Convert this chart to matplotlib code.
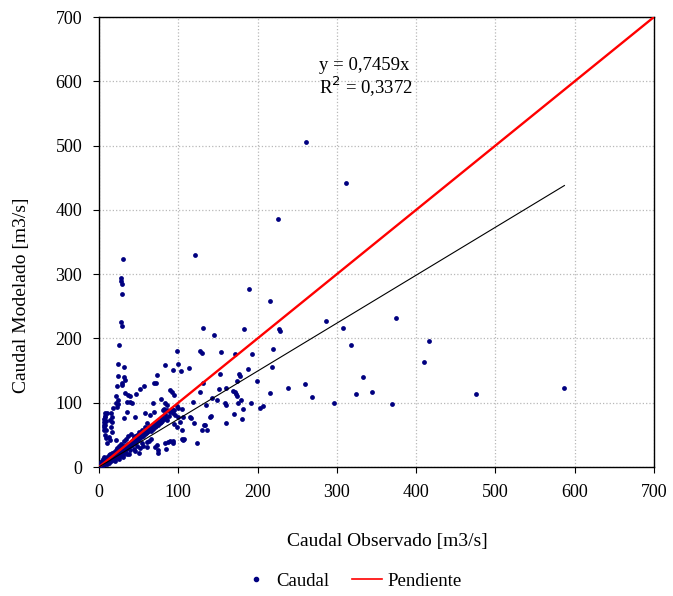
import numpy as np
import matplotlib.pyplot as plt
from matplotlib.lines import Line2D

plt.rcParams['font.family'] = ['Liberation Serif', 'DejaVu Serif']

obs_out = [260.7, 312, 225.8, 120.7, 29.9, 28, 28.3, 28.6, 28.6, 27.4, 29.4, 188.8, 215.7, 285.9,
           374, 307.7, 317.8, 227, 228, 182.5, 144.6, 131.6, 416, 410, 370, 475, 587, 219.4,
           127.8, 129.5, 154, 171.5, 192.5, 187.5, 217.8, 152.6, 177, 178, 174.4, 199.7, 130.8,
           151.3, 160.5, 169, 171, 173, 174, 179.5, 142.9, 148.4, 127.4, 238.3, 259.8, 268.6,
           215.7, 296.8, 332.5, 324.5, 344.7, 135.3, 159.5, 159.8, 175.7, 191.7, 181.6, 203,
           206.4, 169.9, 139.6, 180.7, 160.2, 132.4, 98.4, 25.6, 83.2, 24.2, 31.5, 99.2, 92.8,
           103.8, 113.5, 24.3, 31.9, 32.8, 73.6, 71.9, 69.4, 57.2, 51.4, 46.4, 29.4, 29.4, 22.7,
           33, 36, 38.7, 21.8, 90, 92.5, 95, 78.2, 68.5, 83.2, 85.8, 21.4, 35.3, 38.7, 41.6, 17.3,
           10, 7.6, 6.3, 6.3, 6.3, 6.3, 6.3, 14.3, 34.9, 31.1, 45.4, 58, 69.7, 81, 82, 95.8, 105,
           102, 95, 98, 106.4, 115.6, 119.8, 133.7, 140.8, 105, 107.7, 89.5, 93.3, 83.2, 84, 72.7,
           73.9, 74.8, 70.6, 60, 60, 50.9, 30.6, 38, 9.7, 13.9, 12, 21, 119, 64.3, 100, 114.8,
           129.5, 135.8, 104.3, 123.2, 106.3, 87.4, 93.7, 60, 77, 85.4, 93.7,
           8, 8, 8.5, 8, 8.3, 8, 8.4, 15.5, 16, 15.8, 15.5, 16, 23.5, 23.8, 23.3]
mod_out = [505, 442, 386, 329, 324, 294, 289, 285, 269, 225, 220, 277, 259, 227,
           232, 216, 190, 214, 211, 215, 205, 217, 196, 164, 98.5, 114, 123, 184,
           181, 178, 179, 176, 176, 153, 155, 144, 144, 141, 134, 134, 130,
           121, 123, 119, 116, 113, 110, 105, 107, 105, 117, 123, 129, 109,
           115, 99.5, 140, 113, 117, 96, 99, 96, 100, 99.5, 90, 92,
           95, 82, 78, 75, 68, 65, 180, 190, 159, 161, 156, 160, 151,
           150, 154.5, 141.5, 140.5, 135, 143, 130, 131, 125.5, 121, 113, 130, 127, 126,
           115, 112, 110, 111, 120, 116, 112, 106, 100, 100, 97, 100, 101, 101, 99, 92,
           83.5, 78, 75, 70, 66, 62, 58, 73, 86, 76, 78, 83.5, 86, 88, 91, 81, 91,
           70.5, 67, 62, 78, 76, 68, 65, 79, 43, 44, 40, 40.5, 38, 28.5, 34,
           26.4, 21.5, 31, 39.4, 31.6, 22.3, 18.7, 21, 36.8, 42, 47, 42, 101.6, 81, 78, 78,
           57.5, 57.5, 57.5, 36.8, 42, 39.4, 36.8, 68, 68, 73, 84,
           84, 80, 72, 65, 58, 50, 45, 84, 78, 70, 62, 55, 104, 98, 93]

# dense core near the origin
obs_core = [1, 2, 2, 3, 3, 4, 4, 5, 5, 5, 6, 6, 6, 7, 7, 8, 8, 9, 9, 10, 10, 10,
            11, 11, 12, 12, 13, 13, 13, 14, 14, 14, 15, 15, 15, 16, 16, 16, 17, 17, 18, 18, 18,
            19, 19, 19, 20, 20, 20,
            21, 21, 21, 22, 22, 23, 23, 23, 24, 24, 25, 25, 25, 26, 26, 27, 27, 28, 28, 28,
            29, 29, 30, 30, 30,
            31, 31, 31, 32, 32, 33, 33, 34, 34, 34, 35, 35, 36, 36, 37, 37, 37, 38, 38, 39, 39,
            40, 40, 40,
            41, 41, 42, 42, 43, 43, 44, 44, 45, 45, 46, 46, 47, 47, 48, 48, 49, 49, 50, 50,
            51, 51, 52, 52, 53, 53, 54, 54, 55, 55, 56, 57, 57, 58, 58, 59, 60, 60,
            61, 62, 62, 63, 64, 64, 65, 66, 67, 68, 68, 70, 70, 72, 73, 74, 75, 76, 78, 78, 80, 80,
            82, 83, 85, 86, 88, 90, 92, 95, 98, 100,
            20, 25, 30, 35, 45, 52, 56, 63, 66, 44, 27, 33, 39, 48, 54]
mod_core = [2, 3, 5, 4, 8, 6, 10, 3, 7, 12, 5, 9, 15, 4, 8, 6, 11, 7, 13, 5, 9, 16,
            8, 12, 10, 18, 7, 11, 15, 9, 13, 20, 10, 12, 17, 11, 14, 22, 12, 16, 13, 15, 19,
            14, 17, 24, 13, 16, 21,
            15, 18, 26, 16, 20, 17, 22, 30, 18, 21, 19, 24, 33, 20, 23, 21, 26, 22, 25, 36,
            23, 28, 24, 27, 32,
            25, 29, 40, 26, 30, 27, 32, 28, 31, 44, 29, 34, 30, 33, 31, 36, 48, 32, 35, 33, 38,
            34, 37, 52,
            35, 40, 36, 39, 37, 42, 38, 46, 39, 42, 40, 48, 41, 44, 42, 50, 43, 46, 44, 55,
            45, 49, 46, 52, 47, 50, 48, 58, 49, 53, 50, 51, 56, 52, 62, 53, 54, 58,
            55, 56, 60, 57, 58, 64, 56, 60, 62, 59, 66, 62, 68, 64, 70, 66, 72, 68, 70, 76, 72, 78,
            74, 82, 78, 88, 80, 85, 90, 88, 95, 92,
            10, 12, 15, 20, 25, 30, 32, 40, 44, 28, 17, 23, 27, 33, 37]

obs = np.array(obs_out + obs_core)
mod = np.array(mod_out + mod_core)

slope = 0.7459
r2 = 0.3372

fig = plt.figure(figsize=(6.73, 5.96), dpi=100)
ax = fig.add_axes([99/673, 129/596, 555/673, 450/596])

ax.scatter(obs, mod, s=12, color='#000080', zorder=3, linewidths=0)
ax.plot([0, 700], [0, 700], color='red', lw=1.7, zorder=4)
xt = np.array([0, obs.max()])
ax.plot(xt, slope * xt, color='black', lw=0.8, zorder=4)

ax.set_xlim(0, 700)
ax.set_ylim(0, 700)
ax.set_xticks(range(0, 701, 100))
ax.set_yticks(range(0, 701, 100))
ax.grid(True, color='#b8b8b8', linestyle=':', linewidth=0.9)
ax.set_axisbelow(True)
ax.tick_params(labelsize=13, length=4, direction='out', pad=8)
for s in ax.spines.values():
    s.set_color('black')
    s.set_linewidth(1.0)

ax.set_xlabel('Caudal Observado [m3/s]', fontsize=14)
ax.xaxis.set_label_coords(0.52, -0.147)
ax.set_ylabel('Caudal Modelado [m3/s]', fontsize=14)
ax.yaxis.set_label_coords(-0.124, 0.382)

ax.text((319 - 99) / 555, (467 - 78) / 450, 'y = 0,7459x\nR$^2$ = 0,3372', fontsize=13.5,
        va='center', ha='left', linespacing=1.0, transform=ax.transAxes)

handles = [Line2D([], [], marker='o', color='#000080', ls='none', ms=3),
           Line2D([], [], color='red', lw=1.2)]
fig.legend(handles, ['Caudal', 'Pendiente'], loc='center', bbox_to_anchor=(0.522, 0.025),
           ncol=2, frameon=False, fontsize=13.5, handlelength=1.6, handletextpad=0.3,
           columnspacing=1.2)

fig.savefig('out.png', dpi=100)
